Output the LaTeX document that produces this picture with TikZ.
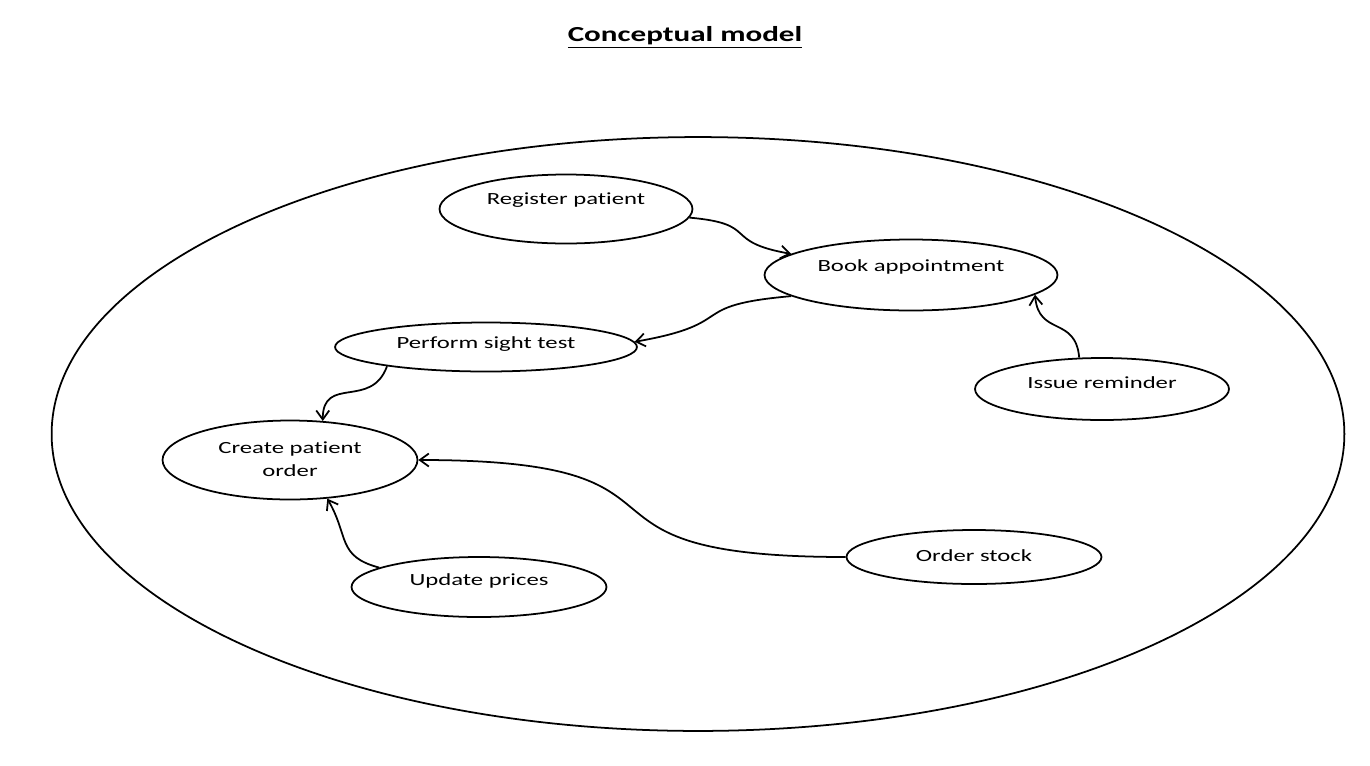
\documentclass[tikz,border=0pt]{standalone}
\usepackage{fontspec}
\setmainfont{Carlito}[FakeStretch=1.45, Ligatures=NoCommon]
\usetikzlibrary{shapes.geometric, arrows.meta}

\begin{document}
\begin{tikzpicture}[x=0.02cm, y=-0.02cm, line width=1pt,
    >={Straight Barb[length=1.8mm, width=2.6mm]},
    proc/.style={draw, ellipse, inner sep=0pt, align=center,
        font=\fontsize{9.7}{13}\selectfont, text height=0.3cm, text depth=#1}]
    \useasboundingbox (0,0) rectangle (1370,765);
    \path (685,37) node (title) {\fontsize{12.2}{14}\selectfont\underline{\textbf{Conceptual model}}};
    \path (698,434) node [draw, ellipse, inner sep=0pt, minimum width=25.86cm, minimum height=11.88cm] (sys) {};

    \path ( 566,209) node [proc=0.5cm,  minimum width=5.06cm, minimum height=1.38cm] (reg) {Register patient};
    \path ( 911,275) node [proc=0.46cm, minimum width=5.86cm, minimum height=1.42cm] (book) {Book appointment};
    \path ( 486,347) node [proc=0.26cm, minimum width=6.04cm, minimum height=0.98cm] (sight) {Perform sight test};
    \path (1102,389) node [proc=0.34cm, minimum width=5.08cm, minimum height=1.24cm] (rem) {Issue reminder};
    \path ( 290,460) node [proc=0.16cm, text height=0.8cm, minimum width=5.1cm, minimum height=1.58cm] (order) {Create patient\\order};
    \path ( 974,557) node [proc=0.14cm, minimum width=5.1cm,  minimum height=1.08cm] (stock) {Order stock};
    \path ( 479,587) node [proc=0.38cm, minimum width=5.1cm,  minimum height=1.2cm]  (prices) {Update prices};

    \draw [->] (reg.-4) to [out=-5, in=170, looseness=1.7] (book.170);
    \draw [->] (book.190) to [out=185, in=10, looseness=1.7] (sight.2);
    \draw [->] (sight.191) to [out=-110, in=90, looseness=1.4] (order.50);
    \draw [->] (rem.126) to [out=95, in=-85, looseness=1.4] (book.-9);
    \draw [->] (stock.west) to [out=180, in=0, looseness=1.8] (order.east);
    \draw [->] (prices.169) to [out=165, in=-60, looseness=1.3] (order.-46);
\end{tikzpicture}
\end{document}
